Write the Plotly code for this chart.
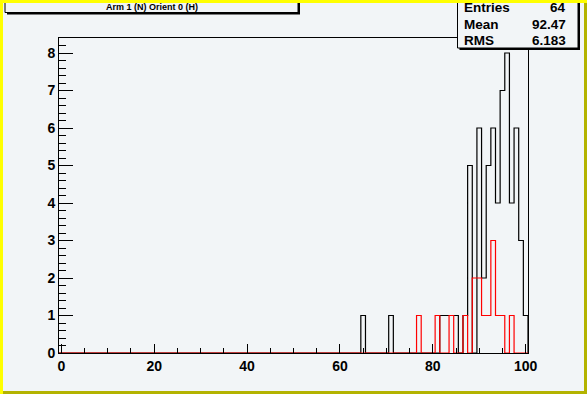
import plotly.graph_objects as go

# ---- data ----
title_text = "Arm 1 (N) Orient 0 (H)"
x_low, x_high, n_bins = -0.5, 100.5, 101
black_x = [65, 71, 82, 83, 84, 85, 87, 88, 90, 91, 92, 93, 94, 95, 96, 97, 98, 99, 100]
black_n = [1, 1, 1, 1, 1, 1, 1, 5, 6, 2, 5, 6, 4, 7, 8, 4, 6, 3, 1]
red_x = [77, 81, 84, 87, 89, 90, 91, 92, 93, 94, 95, 97]
red_n = [1, 1, 1, 1, 2, 2, 1, 1, 3, 1, 1, 1]
stats_labels = ["Entries", "Mean", "RMS"]
stats_values = ["64", "92.47", "6.183"]
x_tick_vals = [0, 20, 40, 60, 80, 100]
y_tick_vals = [0, 1, 2, 3, 4, 5, 6, 7, 8]
y_max = 8.4

BG = "#f2f5f7"
W, H = 587, 394
L, R, T, B = 59, 59, 38, 41
PW, PH = W - L - R, H - T - B


def px(x):
    return (x - L) / PW


def py(y):
    return (H - B - y) / PH


def build(xs, ns):
    width = (x_high - x_low) / n_bins
    counts = [0] * n_bins
    for x, n in zip(xs, ns):
        counts[int(round((x - x_low) / width - 0.5))] = n
    edges = [x_low + i * width for i in range(n_bins + 1)]
    return edges, counts + [0]


fig = go.Figure()
for xs, ns, col in [(black_x, black_n, "#000000"), (red_x, red_n, "#ff0000")]:
    ex, ey = build(xs, ns)
    fig.add_trace(go.Scatter(x=ex, y=ey, mode="lines", line=dict(shape="hv", color=col, width=1.2),
                             hoverinfo="skip", showlegend=False))

tickfont = dict(family="Liberation Sans", size=14, color="black", weight="bold")
fig.update_xaxes(range=[x_low, x_high], tickvals=x_tick_vals, ticks="inside", ticklen=9,
                 tickcolor="black", showline=True, mirror=True, linecolor="black", linewidth=1,
                 showgrid=False, zeroline=False, tickfont=tickfont,
                 minor=dict(dtick=5, ticks="inside", ticklen=5, tickcolor="black"))
fig.update_yaxes(range=[0, y_max], tickvals=y_tick_vals, ticks="inside", ticklen=14,
                 tickcolor="black", showline=True, mirror=True, linecolor="black", linewidth=1,
                 showgrid=False, zeroline=False, tickfont=tickfont,
                 minor=dict(dtick=0.2, ticks="inside", ticklen=7, tickcolor="black"))

shapes = []
# title box with shadow
shapes.append(dict(type="rect", xref="paper", yref="paper", x0=px(7), x1=px(300), y0=py(-5), y1=py(14.5),
                   fillcolor="black", line=dict(width=0), layer="above"))
shapes.append(dict(type="rect", xref="paper", yref="paper", x0=px(5), x1=px(298), y0=py(-5), y1=py(12.5),
                   fillcolor=BG, line=dict(color="black", width=1), layer="above"))
# stats box with shadow
shapes.append(dict(type="rect", xref="paper", yref="paper", x0=px(459.5), x1=px(580), y0=py(-5), y1=py(50),
                   fillcolor="black", line=dict(width=0), layer="above"))
shapes.append(dict(type="rect", xref="paper", yref="paper", x0=px(457.5), x1=px(578), y0=py(-5), y1=py(48),
                   fillcolor=BG, line=dict(color="black", width=1), layer="above"))
# canvas borders
shapes.append(dict(type="rect", xref="paper", yref="paper", x0=px(0), x1=px(3), y0=py(0), y1=py(H),
                   fillcolor="#ffff00", line=dict(width=0), layer="above"))
shapes.append(dict(type="rect", xref="paper", yref="paper", x0=px(0), x1=px(W), y0=py(0), y1=py(3),
                   fillcolor="#ffff00", line=dict(width=0), layer="above"))
shapes.append(dict(type="rect", xref="paper", yref="paper", x0=px(3), x1=px(W), y0=py(H - 3), y1=py(H),
                   fillcolor="#b3b300", line=dict(width=0), layer="above"))
shapes.append(dict(type="rect", xref="paper", yref="paper", x0=px(W - 3), x1=px(W), y0=py(3), y1=py(H),
                   fillcolor="#b3b300", line=dict(width=0), layer="above"))

annotations = [dict(text=title_text, xref="paper", yref="paper", x=px(152), y=py(7), showarrow=False,
                    xanchor="center", yanchor="middle",
                    font=dict(family="Liberation Sans", size=9, color="black", weight="bold"))]
rows_y = [8, 24.5, 40.5]
sfont = dict(family="Liberation Sans", size=13.5, color="black", weight="bold")
for lab, val, yy in zip(stats_labels, stats_values, rows_y):
    annotations.append(dict(text=lab, xref="paper", yref="paper", x=px(462), y=py(yy), showarrow=False,
                            xanchor="left", yanchor="middle", font=sfont))
    annotations.append(dict(text=val, xref="paper", yref="paper", x=px(568), y=py(yy), showarrow=False,
                            xanchor="right", yanchor="middle", font=sfont))

fig.update_layout(width=W, height=H, margin=dict(l=L, r=R, t=T, b=B, pad=0),
                  paper_bgcolor=BG, plot_bgcolor=BG, shapes=shapes, annotations=annotations,
                  showlegend=False)
fig.write_html("out.html", config={"displayModeBar": False},
               post_script="document.body.style.margin='0';document.body.style.overflow='hidden';")
